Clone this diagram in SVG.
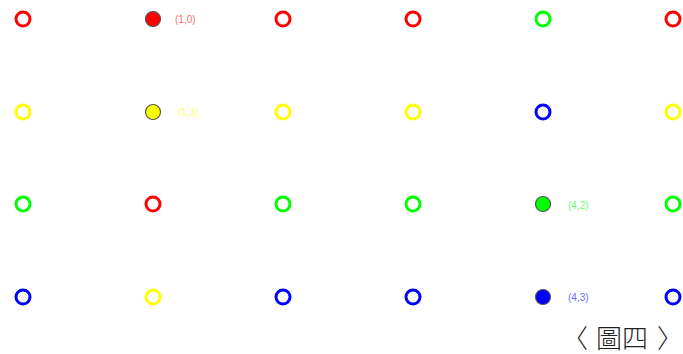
<svg xmlns="http://www.w3.org/2000/svg" width="683" height="354" viewBox="0 0 683 354">
<style>
.r{fill:none;stroke-width:3}
.f{stroke:#555;stroke-width:1.2}
.lb{font-family:"Liberation Sans",Arial,sans-serif;font-size:10px;opacity:0.6}
.R{stroke:#ff0000}.Y{stroke:#ffff00}.G{stroke:#00ff00}.B{stroke:#0000ff}
</style>
<rect width="683" height="354" fill="#fff"/>
<g id="row0">
<circle class="r R" cx="23" cy="19" r="7"/>
<circle class="f" cx="153" cy="19" r="7.5" fill="#ff0000"/>
<circle class="r R" cx="283" cy="19" r="7"/>
<circle class="r R" cx="413" cy="19" r="7"/>
<circle class="r G" cx="543" cy="19" r="7"/>
<circle class="r R" cx="673" cy="19" r="7"/>
<text class="lb" x="175" y="23" fill="#ff0000">(1,0)</text>
</g>
<g id="row1">
<circle class="r Y" cx="23" cy="112" r="7"/>
<circle class="f" cx="153" cy="112" r="7.5" fill="#ffff00"/>
<circle class="r Y" cx="283" cy="112" r="7"/>
<circle class="r Y" cx="413" cy="112" r="7"/>
<circle class="r B" cx="543" cy="112" r="7"/>
<circle class="r Y" cx="673" cy="112" r="7"/>
<text class="lb" x="178" y="116" fill="#ffff00">(1,1)</text>
</g>
<g id="row2">
<circle class="r G" cx="23" cy="204" r="7"/>
<circle class="r R" cx="153" cy="204" r="7"/>
<circle class="r G" cx="283" cy="204" r="7"/>
<circle class="r G" cx="413" cy="204" r="7"/>
<circle class="f" cx="543" cy="204" r="7.5" fill="#00ff00"/>
<circle class="r G" cx="673" cy="204" r="7"/>
<text class="lb" x="568" y="209" fill="#00ff00">(4,2)</text>
</g>
<g id="row3">
<circle class="r B" cx="23" cy="297" r="7"/>
<circle class="r Y" cx="153" cy="297" r="7"/>
<circle class="r B" cx="283" cy="297" r="7"/>
<circle class="r B" cx="413" cy="297" r="7"/>
<circle class="f" cx="543" cy="297" r="7.5" fill="#0000ff"/>
<circle class="r B" cx="673" cy="297" r="7"/>
<text class="lb" x="568" y="301" fill="#0000ff">(4,3)</text>
</g>
<text y="348" font-family="'Noto Sans CJK TC','Noto Sans CJK SC',sans-serif" font-size="26" font-weight="300" fill="#222"><tspan x="562">〈</tspan><tspan x="596">圖</tspan><tspan x="622">四</tspan><tspan x="657">〉</tspan></text>
</svg>
